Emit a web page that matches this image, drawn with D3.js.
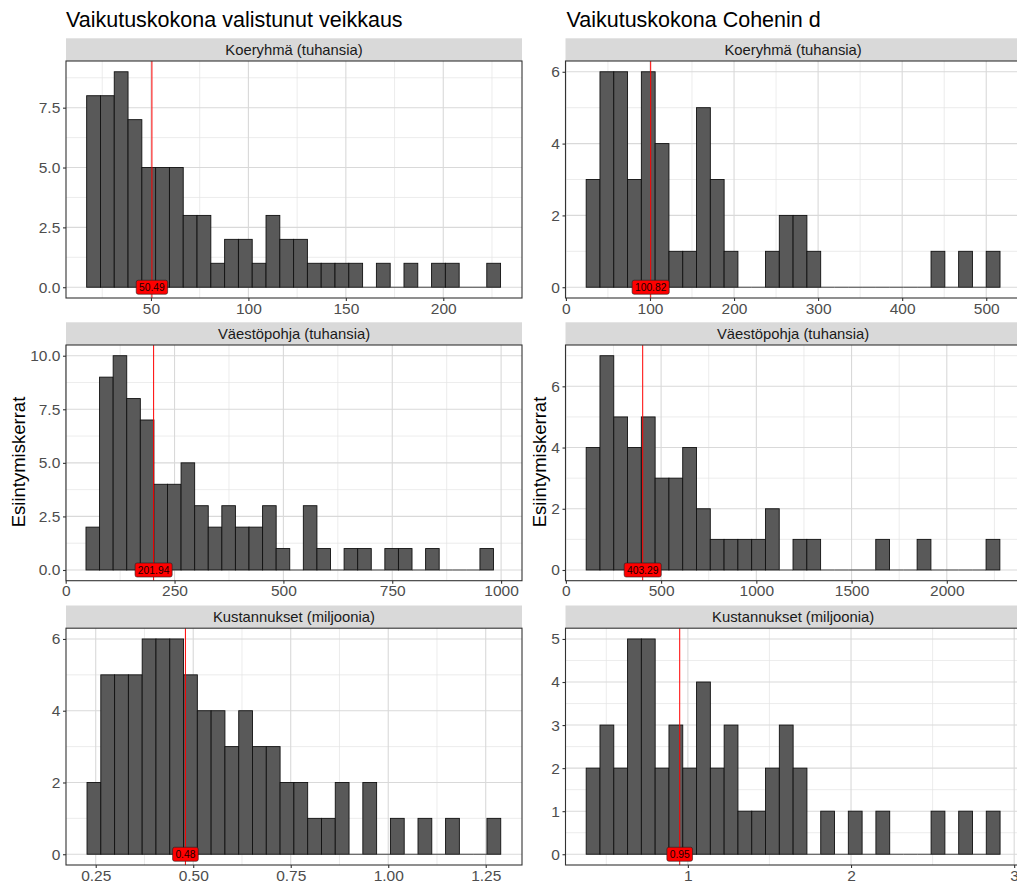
<!DOCTYPE html>
<html><head><meta charset="utf-8">
<script src="https://cdn.jsdelivr.net/npm/d3@7"></script>
<style>
body{margin:0;background:#fff}
svg{display:block}
text{font-family:"Liberation Sans",Arial,Helvetica,sans-serif}
</style>
</head><body>
<svg id="chart" width="1017" height="884"></svg>
<script>
// ---------- data ----------
const chartTitles = ["Vaikutuskokona valistunut veikkaus", "Vaikutuskokona Cohenin d"];
const facetNames = ["Koeryhmä (tuhansia)", "Väestöpohja (tuhansia)", "Kustannukset (miljoonia)"];
const yAxisTitle = "Esiintymiskerrat";

// Column 1: valistunut veikkaus (30 bins each)
const veikkausKoeCounts    = [8,8,9,7,5,5,5,3,3,1,2,2,1,3,2,2,1,1,1,1,0,1,0,1,0,1,1,0,0,1];
const veikkausVaestoCounts = [2,9,10,8,7,4,4,5,3,2,3,2,2,3,1,0,3,1,0,1,1,0,1,1,0,1,0,0,0,1];
const veikkausKustCounts   = [2,5,5,5,6,6,6,5,4,4,3,4,3,3,2,2,1,1,2,0,2,0,1,0,1,0,1,0,0,1];
const veikkausBinStart = [17.0, 46.6, 0.2277];
const veikkausBinWidth = [7.08, 31.2, 0.03536];
const veikkausMeans    = [50.49, 201.94, 0.48];
const veikkausXDomains = [[6.4, 240.4], [0.7, 1048], [0.1738, 1.343]];
const veikkausXTicks   = [[50,100,150,200], [0,250,500,750,1000], [0.25,0.5,0.75,1.0,1.25]];
const veikkausXTickLabels = [["50","100","150","200"], ["0","250","500","750","1000"], ["0.25","0.50","0.75","1.00","1.25"]];
const veikkausYTicks   = [[0,2.5,5,7.5], [0,2.5,5,7.5,10], [0,2,4,6]];
const veikkausYTickLabels = [["0.0","2.5","5.0","7.5"], ["0.0","2.5","5.0","7.5","10.0"], ["0","2","4","6"]];

// Column 2: Cohenin d
const cohenKoeCounts    = [3,6,6,3,6,4,1,1,5,3,1,0,0,1,2,2,1,0,0,0,0,0,0,0,0,1,0,1,0,1];
const cohenVaestoCounts = [4,7,5,4,5,3,3,4,2,1,1,1,1,2,0,1,1,0,0,0,0,1,0,0,1,0,0,0,0,1];
const cohenKustCounts   = [2,3,2,5,5,2,3,2,4,2,3,1,1,2,3,2,0,1,0,1,0,1,0,0,0,1,0,1,0,1];
const cohenBinStart = [24.1, 106.6, 0.3768];
const cohenBinWidth = [16.41, 72.4, 0.08456];
const cohenMeans    = [100.82, 403.29, 0.95];
const cohenXDomains = [[-0.5, 541], [-2, 2388], [0.25, 3.04]];
const cohenXTicks   = [[0,100,200,300,400,500], [0,500,1000,1500,2000], [1,2,3]];
const cohenXTickLabels = [["0","100","200","300","400","500"], ["0","500","1000","1500","2000"], ["1","2","3"]];
const cohenYTicks   = [[0,2,4,6], [0,2,4,6], [0,1,2,3,4,5]];
const cohenYTickLabels = [["0","2","4","6"], ["0","2","4","6"], ["0","1","2","3","4","5"]];

// ---------- layout ----------
const svg = d3.select("#chart");
const columns = [
  {x0: 66, x1: 522, titleX: 66, yTitleX: 18},
  {x0: 565.5, x1: 1020.7, titleX: 566.5, yTitleX: 539}
];
const rows = [
  {p0: 61, p1: 298},
  {p0: 345, p1: 580.7},
  {p0: 628.2, p1: 865}
];
const stripH = 22.7;

const columnData = [
  {counts: [veikkausKoeCounts, veikkausVaestoCounts, veikkausKustCounts], start: veikkausBinStart, width: veikkausBinWidth,
   means: veikkausMeans, xDomains: veikkausXDomains, xTicks: veikkausXTicks, xLabels: veikkausXTickLabels,
   yTicks: veikkausYTicks, yLabels: veikkausYTickLabels},
  {counts: [cohenKoeCounts, cohenVaestoCounts, cohenKustCounts], start: cohenBinStart, width: cohenBinWidth,
   means: cohenMeans, xDomains: cohenXDomains, xTicks: cohenXTicks, xLabels: cohenXTickLabels,
   yTicks: cohenYTicks, yLabels: cohenYTickLabels}
];

function minorTicks(major, domain) {
  const out = [];
  const step = major[1] - major[0];
  const cands = [major[0] - step / 2];
  for (let i = 0; i < major.length - 1; i++) cands.push((major[i] + major[i + 1]) / 2);
  cands.push(major[major.length - 1] + step / 2);
  cands.forEach(v => { if (v > domain[0] && v < domain[1]) out.push(v); });
  return out;
}

columnData.forEach((cd, ci) => {
  const col = columns[ci];
  // title
  svg.append("text").attr("x", col.titleX).attr("y", 27.3)
    .attr("font-size", 21.5).attr("fill", "#000").text(chartTitles[ci]);
  // y axis title
  svg.append("text")
    .attr("transform", `translate(${col.yTitleX + 6.5},462) rotate(-90)`)
    .attr("text-anchor", "middle").attr("font-size", 18.5).attr("fill", "#000")
    .text(yAxisTitle);

  rows.forEach((row, ri) => {
    const counts = cd.counts[ri];
    const x = d3.scaleLinear().domain(cd.xDomains[ri]).range([col.x0, col.x1]);
    const yMax = d3.max(counts);
    const y = d3.scaleLinear().domain([-0.05 * yMax, 1.05 * yMax]).range([row.p1, row.p0]);
    const g = svg.append("g");

    // strip
    g.append("rect").attr("x", col.x0).attr("y", row.p0 - stripH)
      .attr("width", col.x1 - col.x0).attr("height", stripH).attr("fill", "#D9D9D9");
    g.append("text").attr("x", (col.x0 + col.x1) / 2).attr("y", row.p0 - stripH / 2)
      .attr("dy", "0.35em").attr("text-anchor", "middle").attr("font-size", 14.8)
      .attr("fill", "#1A1A1A").text(facetNames[ri]);

    // grid
    const xMinor = minorTicks(cd.xTicks[ri], cd.xDomains[ri]);
    const yMinor = minorTicks(cd.yTicks[ri], y.domain());
    const grid = g.append("g");
    grid.selectAll(".xmin").data(xMinor).join("line")
      .attr("x1", d => x(d)).attr("x2", d => x(d)).attr("y1", row.p0).attr("y2", row.p1)
      .attr("stroke", "#E4E4E4").attr("stroke-width", 0.7);
    grid.selectAll(".ymin").data(yMinor).join("line")
      .attr("y1", d => y(d)).attr("y2", d => y(d)).attr("x1", col.x0).attr("x2", col.x1)
      .attr("stroke", "#E4E4E4").attr("stroke-width", 0.7);
    grid.selectAll(".xmaj").data(cd.xTicks[ri]).join("line")
      .attr("x1", d => x(d)).attr("x2", d => x(d)).attr("y1", row.p0).attr("y2", row.p1)
      .attr("stroke", "#D9D9D9").attr("stroke-width", 1.1);
    grid.selectAll(".ymaj").data(cd.yTicks[ri]).join("line")
      .attr("y1", d => y(d)).attr("y2", d => y(d)).attr("x1", col.x0).attr("x2", col.x1)
      .attr("stroke", "#D9D9D9").attr("stroke-width", 1.1);

    // bars
    const bins = counts.map((c, i) => ({
      c, a: cd.start[ri] + i * cd.width[ri], b: cd.start[ri] + (i + 1) * cd.width[ri]
    }));
    g.selectAll(".bar").data(bins.filter(d => d.c > 0)).join("rect")
      .attr("x", d => x(d.a)).attr("width", d => x(d.b) - x(d.a))
      .attr("y", d => y(d.c)).attr("height", d => y(0) - y(d.c))
      .attr("fill", "#595959").attr("stroke", "#111").attr("stroke-width", 0.9);
    g.selectAll(".zero").data(bins.filter(d => d.c === 0)).join("line")
      .attr("x1", d => x(d.a)).attr("x2", d => x(d.b)).attr("y1", y(0)).attr("y2", y(0))
      .attr("stroke", "#333").attr("stroke-width", 0.9);

    // mean line
    const m = cd.means[ri];
    g.append("line").attr("x1", x(m)).attr("x2", x(m)).attr("y1", row.p0).attr("y2", row.p1)
      .attr("stroke", "#FF0000").attr("stroke-width", 1);
    // label
    const lab = g.append("g");
    const lt = lab.append("text").attr("x", x(m)).attr("y", y(0)).attr("dy", "0.36em")
      .attr("text-anchor", "middle").attr("font-size", 10.3).attr("fill", "#1a0000")
      .text(m.toFixed(2));
    const tw = lt.node().getComputedTextLength();
    lab.insert("rect", "text").attr("x", x(m) - tw / 2 - 2.8).attr("y", y(0) - 7)
      .attr("width", tw + 5.6).attr("height", 14).attr("rx", 2).attr("ry", 2)
      .attr("fill", "#FF0000").attr("stroke", "#222").attr("stroke-width", 0.6);

    // border
    g.append("rect").attr("x", col.x0).attr("y", row.p0)
      .attr("width", col.x1 - col.x0).attr("height", row.p1 - row.p0)
      .attr("fill", "none").attr("stroke", "#333").attr("stroke-width", 1.1);

    // axes
    const xl = cd.xLabels[ri], yl = cd.yLabels[ri];
    const xAxis = d3.axisBottom(x).tickValues(cd.xTicks[ri])
      .tickFormat((d, i) => xl[i]).tickSize(3).tickPadding(1.5);
    const ax = g.append("g").attr("transform", `translate(0,${row.p1})`).call(xAxis);
    const yAxis = d3.axisLeft(y).tickValues(cd.yTicks[ri])
      .tickFormat((d, i) => yl[i]).tickSize(3).tickPadding(2.7);
    const ay = g.append("g").attr("transform", `translate(${col.x0},0)`).call(yAxis);
    [ax, ay].forEach(a => {
      a.select(".domain").remove();
      a.selectAll(".tick line").attr("stroke", "#333").attr("stroke-width", 1.1);
      a.selectAll(".tick text").attr("fill", "#4D4D4D").attr("font-size", 15.5)
        .attr("font-family", '"Liberation Sans",Arial,sans-serif');
    });
  });
});
</script>
</body></html>
